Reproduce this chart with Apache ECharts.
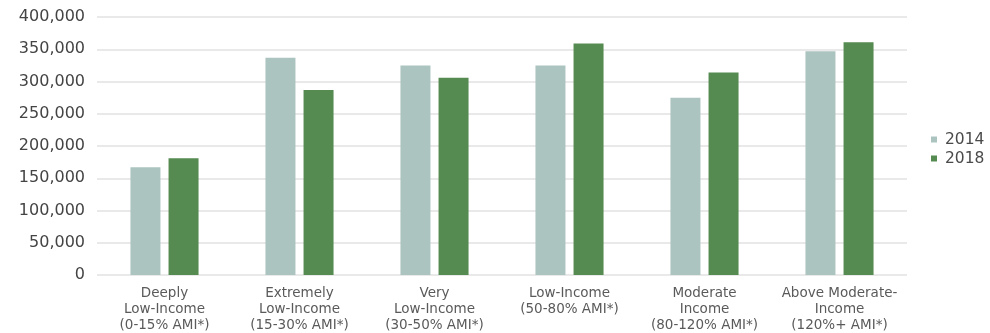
<!DOCTYPE html>
<html>
<head>
<meta charset="utf-8">
<script src="https://cdn.jsdelivr.net/npm/echarts@6/dist/echarts.min.js"></script>
<style>
  html, body { margin: 0; padding: 0; background: #ffffff; }
  #chart { width: 990px; height: 333px; }
</style>
</head>
<body>
<div id="chart"></div>
<script>
// Income groups (by share of Area Median Income)
const categories = [
  'Deeply\nLow-Income\n(0-15% AMI*)',
  'Extremely\nLow-Income\n(15-30% AMI*)',
  'Very\nLow-Income\n(30-50% AMI*)',
  'Low-Income\n(50-80% AMI*)',
  'Moderate\nIncome\n(80-120% AMI*)',
  'Above Moderate-\nIncome\n(120%+ AMI*)'
];
const years = ['2014', '2018'];
const values2014 = [167000, 337000, 325000, 325000, 275000, 347000];
const values2018 = [181000, 287000, 306000, 359000, 314000, 361000];

const FONT = '"DejaVu Sans", sans-serif';

const chart = echarts.init(document.getElementById('chart'), null, { renderer: 'canvas' });
chart.setOption({
  animation: false,
  backgroundColor: '#ffffff',
  grid: { left: 97, right: 83, top: 17, bottom: 58, containLabel: false },
  legend: {
    data: years,
    orient: 'vertical',
    left: 926,
    top: 126,
    icon: 'rect',
    itemWidth: 6,
    itemHeight: 6,
    itemGap: 2,
    textStyle: {
      fontFamily: FONT,
      fontSize: 15.5,
      color: '#4a4a4a',
      lineHeight: 17,
      padding: [0, 0, 0, 3]
    }
  },
  xAxis: {
    type: 'category',
    data: categories,
    axisLine: { show: false },
    axisTick: { show: false },
    axisLabel: {
      interval: 0,
      margin: 10,
      fontFamily: FONT,
      fontSize: 13.5,
      lineHeight: 16,
      color: '#5a5a5a'
    }
  },
  yAxis: {
    type: 'value',
    min: 0,
    max: 400000,
    interval: 50000,
    axisLine: { show: false },
    axisTick: { show: false },
    splitLine: { lineStyle: { color: '#e2e2e2', width: 1.5 } },
    axisLabel: {
      margin: 12,
      fontFamily: FONT,
      fontSize: 16,
      color: '#444444',
      formatter: v => v.toLocaleString('en-US')
    }
  },
  series: [
    {
      name: years[0],
      type: 'bar',
      data: values2014,
      barWidth: 30,
      barGap: '27%',
      itemStyle: { color: '#abc4bf' }
    },
    {
      name: years[1],
      type: 'bar',
      data: values2018,
      barWidth: 30,
      barGap: '27%',
      itemStyle: { color: '#558a50' }
    }
  ]
});
</script>
</body>
</html>
